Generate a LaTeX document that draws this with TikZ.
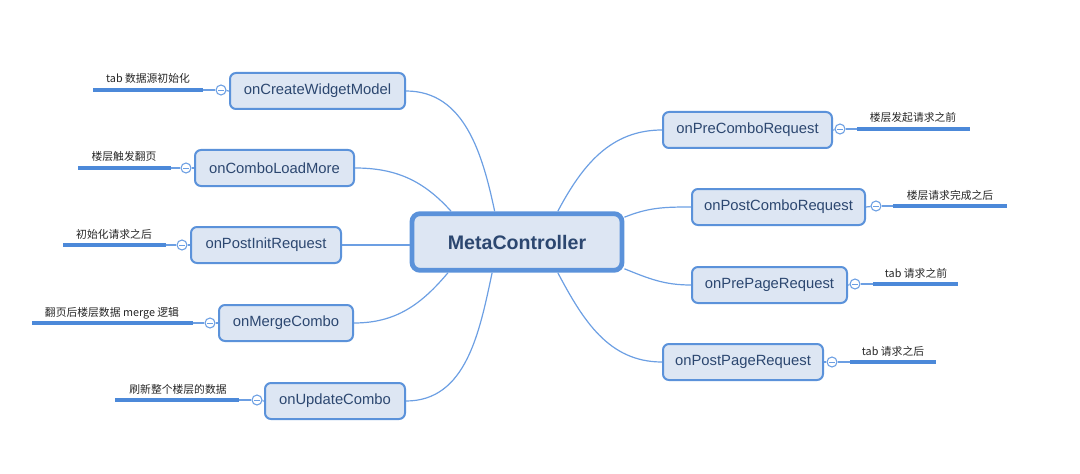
\documentclass[tikz,border=0pt]{standalone}
\usepackage{fontspec}
\setmainfont{Liberation Sans}
\newfontfamily\cjk{Noto Sans CJK SC}
\definecolor{boxfill}{HTML}{DDE6F3}
\definecolor{boxline}{HTML}{5B92DA}
\definecolor{boxtext}{HTML}{2C4770}
\definecolor{linkc}{HTML}{6C9FE3}
\definecolor{barc}{HTML}{4C89D9}
\begin{document}
\begin{tikzpicture}[x=0.75pt,y=0.75pt,
  box/.style={draw=boxline, line width=1.5pt, fill=boxfill, rounded corners=4.5pt,
    minimum height=27pt, minimum width=#1*0.75pt, inner xsep=2pt, text=boxtext,
    font=\fontsize{11.1}{13}\selectfont},
  mainbox/.style={draw=boxline, line width=3.6pt, fill=boxfill, rounded corners=6pt,
    minimum height=42.5pt, minimum width=157.5pt, text=boxtext,
    font=\fontsize{14.7}{17}\selectfont\bfseries},
  knob/.style={circle, draw=linkc, line width=0.8pt, fill=white, minimum size=7.5pt, inner sep=0pt,
    path picture={\draw[linkc, line width=0.7pt] ([xshift=-2pt]path picture bounding box.center) -- ([xshift=2pt]path picture bounding box.center);}},
  link/.style={draw=linkc, line width=0.9pt},
  bar/.style={draw=barc, line width=2.4pt},
  lbl/.style={anchor=base, inner sep=0pt, text=black!85, font=\cjk\fontsize{8.1}{10}\selectfont}
]
\useasboundingbox (0,0) rectangle (1080,-474);

% central node
\node[mainbox] (mc) at (517,-242) {MetaController};

% left children
\node[box=175] (cw) at (317.5,-91) {onCreateWidgetModel};
\node[box=159] (cl) at (274.5,-168) {onComboLoadMore};
\node[box=150] (pi) at (266,-245) {onPostInitRequest};
\node[box=134] (mg) at (286,-323) {onMergeCombo};
\node[box=140] (uc) at (335,-401) {onUpdateCombo};

% right children
\node[box=169] (pc) at (747.5,-130) {onPreComboRequest};
\node[box=173] (poc) at (778.5,-207) {onPostComboRequest};
\node[box=155] (ppg) at (769.5,-285) {onPrePageRequest};
\node[box=160] (ppr) at (743,-362) {onPostPageRequest};

% connectors
\draw[link] (cw.east) to[out=0,in=102] (mc.126.6);
\draw[link] (cl.east) to[out=0,in=132] (mc.155.5);
\draw[link] (pi.east) -- (mc.west |- pi.east);
\draw[link] (mg.east) to[out=0,in=230] (mc.204);
\draw[link] (uc.east) to[out=0,in=258] (mc.231.7);
\draw[link] (mc.37) to[out=62,in=180] (pc.west);
\draw[link] (mc.13) to[out=22,in=180] (poc.west);
\draw[link] (mc.-14.5) to[out=-22,in=180] (ppg.west);
\draw[link] (mc.-37.6) to[out=-62,in=180] (ppr.west);

% left knobs, bars, labels
\node[knob] (cwk) at (221,-90) {};
\coordinate (cwa) at (203,-90); \coordinate (cwb) at (93,-90);
\draw[link] (cw.west) -- (cwk); \draw[link] (cwk) -- (cwa); \draw[bar] (cwa) -- (cwb);
\node[lbl] (cwl) at (148,-83) {tab 数据源初始化};

\node[knob] (clk) at (186,-168) {};
\coordinate (cla) at (171,-168); \coordinate (clb) at (78,-168);
\draw[link] (cl.west) -- (clk); \draw[link] (clk) -- (cla); \draw[bar] (cla) -- (clb);
\node[lbl] (cll) at (124,-161) {楼层触发翻页};

\node[knob] (pik) at (182,-245) {};
\coordinate (pia) at (166,-245); \coordinate (pib) at (63,-245);
\draw[link] (pi.west) -- (pik); \draw[link] (pik) -- (pia); \draw[bar] (pia) -- (pib);
\node[lbl] (pil) at (114,-238) {初始化请求之后};

\node[knob] (mgk) at (210,-323) {};
\coordinate (mga) at (193,-323); \coordinate (mgb) at (32,-323);
\draw[link] (mg.west) -- (mgk); \draw[link] (mgk) -- (mga); \draw[bar] (mga) -- (mgb);
\node[lbl] (mgl) at (112,-316) {翻页后楼层数据 merge 逻辑};

\node[knob] (uck) at (257,-400) {};
\coordinate (uca) at (239,-400); \coordinate (ucb) at (115,-400);
\draw[link] (uc.west) -- (uck); \draw[link] (uck) -- (uca); \draw[bar] (uca) -- (ucb);
\node[lbl] (ucl) at (178,-393) {刷新整个楼层的数据};

% right knobs, bars, labels
\node[knob] (pck) at (840,-129) {};
\coordinate (pca) at (857,-129); \coordinate (pcb) at (970,-129);
\draw[link] (pc.east) -- (pck); \draw[link] (pck) -- (pca); \draw[bar] (pca) -- (pcb);
\node[lbl] (pcl) at (913,-122) {楼层发起请求之前};

\node[knob] (pock) at (876,-206) {};
\coordinate (poca) at (893,-206); \coordinate (pocb) at (1007,-206);
\draw[link] (poc.east) -- (pock); \draw[link] (pock) -- (poca); \draw[bar] (poca) -- (pocb);
\node[lbl] (pocl) at (950,-199) {楼层请求完成之后};

\node[knob] (ppgk) at (855,-284) {};
\coordinate (ppga) at (873,-284); \coordinate (ppgb) at (958,-284);
\draw[link] (ppg.east) -- (ppgk); \draw[link] (ppgk) -- (ppga); \draw[bar] (ppga) -- (ppgb);
\node[lbl] (ppgl) at (916,-277) {tab 请求之前};

\node[knob] (pprk) at (832,-362) {};
\coordinate (ppra) at (850,-362); \coordinate (pprb) at (936,-362);
\draw[link] (ppr.east) -- (pprk); \draw[link] (pprk) -- (ppra); \draw[bar] (ppra) -- (pprb);
\node[lbl] (pprl) at (893,-355) {tab 请求之后};
\end{tikzpicture}
\end{document}
